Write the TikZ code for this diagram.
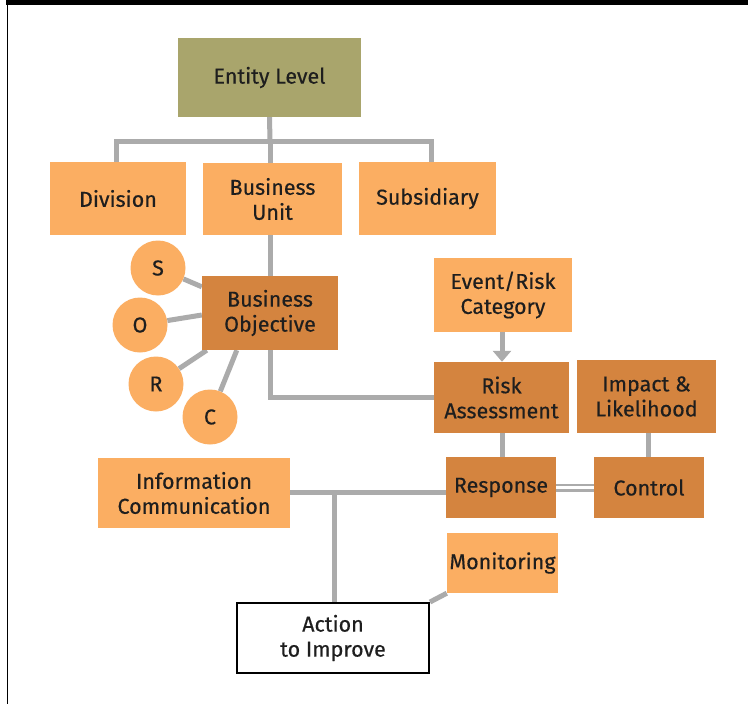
\documentclass[tikz,border=0pt]{standalone}
\usepackage{fontspec}
\setmainfont{Fira Sans}[FakeBold=0.4]
\usetikzlibrary{arrows.meta,calc}
\pgfdeclarelayer{back}
\pgfdeclarelayer{bg}
\pgfsetlayers{back,bg,main}
\definecolor{lightor}{HTML}{FBAE62}
\definecolor{darkor}{HTML}{D4843F}
\definecolor{olive}{HTML}{A9A56C}
\definecolor{conn}{HTML}{ABABAB}
\definecolor{txt}{HTML}{1E1E1E}
\tikzset{
  box/.style={inner sep=0pt, align=center, text=txt,
    font=\fontsize{21.5}{25}\selectfont},
  lbox/.style={box, fill=lightor},
  dbox/.style={box, fill=darkor},
  obox/.style={box, fill=olive},
  wbox/.style={box, fill=white, draw=black, line width=2pt},
  circ/.style={circle, fill=lightor, minimum size=55pt, inner sep=0pt,
    text=txt, font=\fontsize{21.5}{25}\selectfont},
  link/.style={draw=conn, line width=5pt},
  dlink/.style={draw=conn, line width=2.5pt, double=white, double distance=3pt},
}
\begin{document}
\begin{tikzpicture}[x=1pt,y=-1pt]
\begin{pgfonlayer}{back}
\fill[white] (0,0) rectangle (748,704);
\end{pgfonlayer}
\useasboundingbox (0,0) rectangle (748,704);
\fill[black] (6,0) rectangle (748,5);
\draw[line width=1.4pt] (7.5,0) -- (7.5,704);

\node[obox, minimum width=183pt, minimum height=79pt] (ent) at (269.5,77.5) {Entity Level};
\node[lbox, minimum width=136pt, minimum height=73pt] (div) at (118,198.5) {Division};
\node[lbox, minimum width=139pt, minimum height=72pt] (bu) at (272.5,199) {Business\\Unit};
\node[lbox, minimum width=137pt, minimum height=73pt] (sub) at (427.5,198.5) {Subsidiary};
\node[dbox, minimum width=136pt, minimum height=74pt] (bo) at (270,313) {Business\\Objective};
\node[circ] (S) at (158,268) {S};
\node[circ] (O) at (140,325) {O};
\node[circ] (R) at (156,384) {R};
\node[circ] (C) at (210,417) {C};
\node[lbox, minimum width=138pt, minimum height=74pt] (evt) at (503,295) {Event/Risk\\Category};
\node[dbox, minimum width=135pt, minimum height=71pt] (ra) at (501.5,397.5) {Risk\\Assessment};
\node[dbox, minimum width=139pt, minimum height=73pt] (il) at (646.5,396.5) {Impact \&\\Likelihood};
\node[dbox, minimum width=110pt, minimum height=61pt] (resp) at (501,487.5) {Response};
\node[dbox, minimum width=110pt, minimum height=61pt] (ctl) at (649,487.5) {Control};
\node[lbox, minimum width=192pt, minimum height=70pt] (info) at (194,493) {Information\\Communication};
\node[lbox, minimum width=111pt, minimum height=60pt] (mon) at (502.5,563) {Monitoring};
\node[wbox, minimum width=192pt, minimum height=70pt] (act) at (333,638) {Action\\to Improve};

\begin{pgfonlayer}{bg}
\coordinate (bar) at (270,141);
\draw[link] (ent.south) -- (bar);
\draw[link] (div.north -| 116,0) |- (bar) -| (sub.north -| 431,0);
\draw[link] (bar) -- (bu.north -| bar);
\draw[link] (bu.south -| bo.north) -- (bo.north);
\draw[link] (bo.south) |- (ra.west);
\draw[link] (S) -- ($(bo.north west)+(0,11)$);
\draw[link] (O) -- ($(bo.west)+(0,2)$);
\draw[link] (R) -- ($(bo.south west)+(5,0)$);
\draw[link] (C) -- ($(bo.south west)+(35,0)$);
\draw[link, -{Triangle[width=18pt,length=11pt]}] (evt.south -| 502,0) -- (ra.north -| 502,0);
\draw[link] (ra.south -| 502,0) -- (resp.north -| 502,0);
\draw[link] (il.south -| 648,0) -- (ctl.north -| 648,0);
\draw[dlink] (resp.east) -- (ctl.west);
\draw[link] (info.east |- 0,492) -- (resp.west |- 0,492);
\draw[link] (act.north -| 334,0) -- (334,492);
\draw[link] (act.north east) -- (mon.south west);
\end{pgfonlayer}
\end{tikzpicture}
\end{document}
